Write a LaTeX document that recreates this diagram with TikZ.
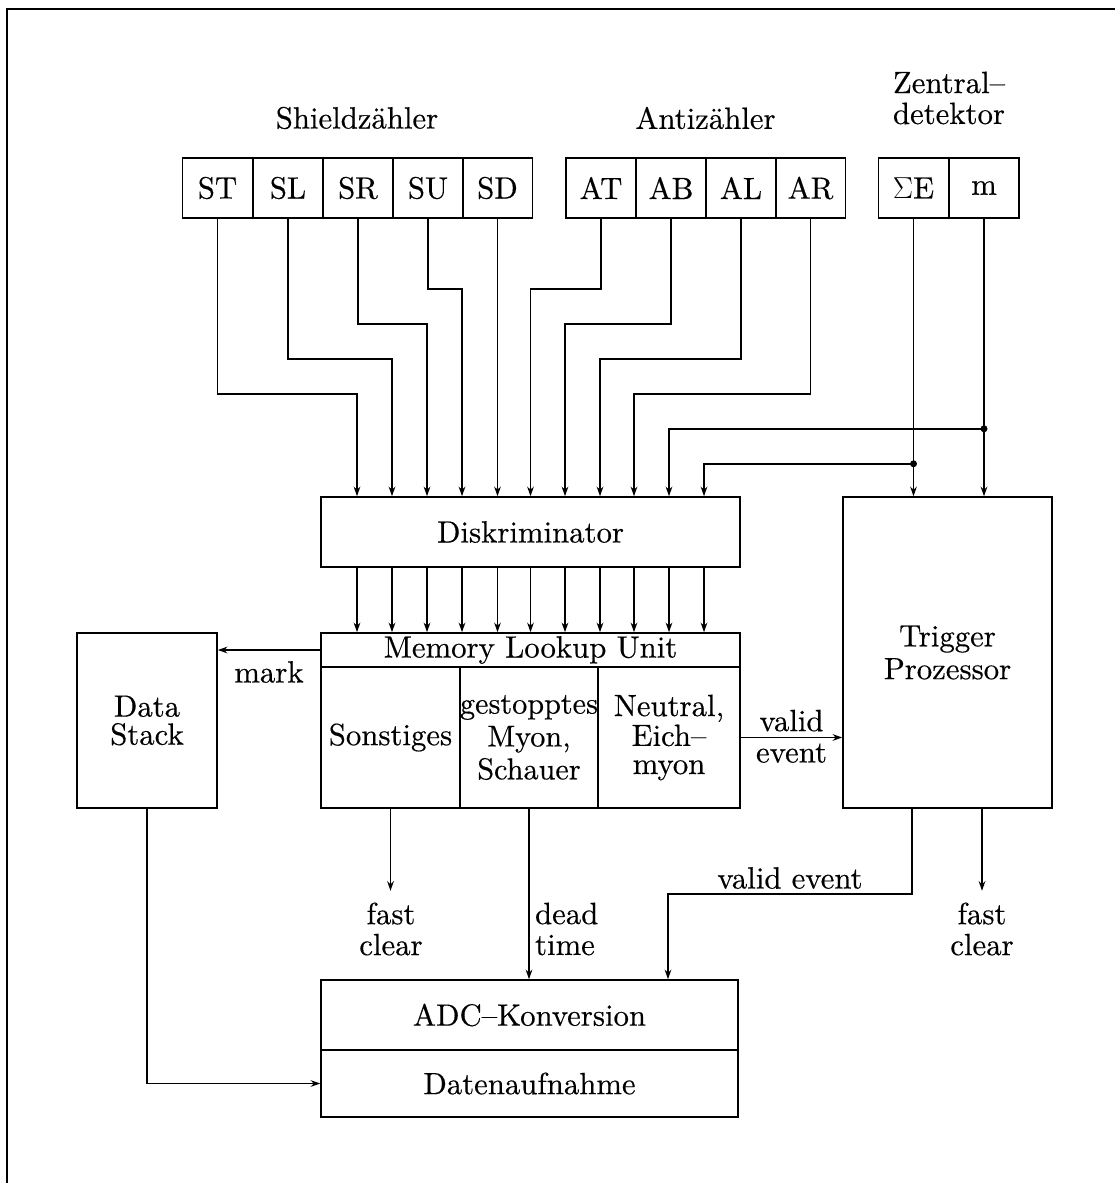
\documentclass[tikz,border=0pt]{standalone}
\usepackage[no-math]{fontspec}
\setmainfont{lmroman10-regular.otf}[FakeBold=0.4]
\usetikzlibrary{arrows.meta}
\begin{document}
\begin{tikzpicture}[x=0.02cm,y=-0.02cm,
  font=\fontsize{17.5}{19}\selectfont,
  box/.style={draw, line width=0.9pt, inner sep=0pt, align=center},
  cell/.style={box, minimum width=1.4cm, minimum height=1.2cm},
  ln/.style={line width=0.9pt},
  arr/.style={ln, -{Stealth[length=5.5pt,width=3.8pt]}},
  lbl/.style={align=center, inner sep=1pt}]
\useasboundingbox (0,0) rectangle (1115,1183);
% frame
\draw[line width=1.4pt] (7,1183) -- (7,9) -- (1115,9);
% headings
\node[lbl] (hS) at (357,118) {Shieldzähler};
\node[lbl] (hA) at (705.5,118) {Antizähler};
\node[lbl, font=\fontsize{17.5}{17.6}\selectfont] (hZ) at (949,98) {Zentral–\\detektor};
% counters
\node[cell] (ST) at (217.5,188) {ST};
\node[cell] (SL) at (288,188) {SL};
\node[cell] (SR) at (358,188) {SR};
\node[cell] (SU) at (428,188) {SU};
\node[cell] (SD) at (497.5,188) {SD};
\node[cell] (AT) at (601,188) {AT};
\node[cell] (AB) at (671,188) {AB};
\node[cell] (AL) at (741,188) {AL};
\node[cell] (AR) at (810.5,188) {AR};
\node[cell] (SE) at (913.5,188) {$\Sigma$E};
\node[cell] (m) at (984,188) {m};
% main blocks
\node[box, minimum width=8.38cm, minimum height=1.4cm] (Disk) at (530.5,532) {Diskriminator};
\node[box, minimum width=8.38cm, minimum height=0.68cm] (MLU) at (530.5,650) {Memory Lookup Unit};
\node[box, minimum width=2.78cm, minimum height=2.82cm] (Sonst) at (390.5,737.5) {Sonstiges};
\node[box, minimum width=2.76cm, minimum height=2.82cm] (Gest) at (529,737.5) {};
\node[lbl, inner sep=0pt, font=\fontsize{17.2}{18.7}\selectfont] (GestT) at (Gest.center) {gestopptes\\Myon,\\Schauer};
\node[box, minimum width=2.84cm, minimum height=2.82cm] (Neut) at (669,737.5) {Neutral,\\[-2pt]Eich–\\[-3pt]myon};
\node[box, minimum width=4.18cm, minimum height=6.22cm, font=\fontsize{17.5}{18.7}\selectfont] (Trig) at (947.5,652.5) {Trigger\\Prozessor};
\node[box, minimum width=2.8cm, minimum height=3.5cm, font=\fontsize{17.5}{16}\selectfont] (DS) at (147,720.5) {Data\\Stack};
\node[box, minimum width=8.34cm, minimum height=1.4cm] (ADC) at (529.5,1015) {ADC–Konversion};
\node[box, minimum width=8.34cm, minimum height=1.34cm] (Daten) at (529.5,1083.5) {Datenaufnahme};
% input columns of the discriminator
\coordinate (i1) at (357,0);
\coordinate (i2) at (392,0);
\coordinate (i3) at (427,0);
\coordinate (i4) at (462,0);
\coordinate (i5) at (497.5,0);
\coordinate (i6) at (530.5,0);
\coordinate (i7) at (565,0);
\coordinate (i8) at (600,0);
\coordinate (i9) at (634,0);
\coordinate (i10) at (669,0);
\coordinate (i11) at (704,0);
% counters to discriminator
\draw[arr] (ST.south) -- ++(0,175) -| (i1 |- Disk.north);
\draw[arr] (SL.south) -- ++(0,140) -| (i2 |- Disk.north);
\draw[arr] (SR.south) -- ++(0,105) -| (i3 |- Disk.north);
\draw[arr] (SU.south) -- ++(0,70) -| (i4 |- Disk.north);
\draw[arr] (SD.south) -- (SD.south |- Disk.north);
\draw[arr] (AT.south) -- ++(0,70) -| (i6 |- Disk.north);
\draw[arr] (AB.south) -- ++(0,105) -| (i7 |- Disk.north);
\draw[arr] (AL.south) -- ++(0,140) -| (i8 |- Disk.north);
\draw[arr] (AR.south) -- ++(0,175) -| (i9 |- Disk.north);
% central detector
\path (m.south) ++(0,210) coordinate (jm);
\path (SE.south) ++(0,245) coordinate (jE);
\draw[arr] (m.south) -- (m.south |- Trig.north);
\draw[arr] (SE.south) -- (SE.south |- Trig.north);
\draw[arr] (jm) -| (i10 |- Disk.north);
\draw[arr] (jE) -| (i11 |- Disk.north);
\fill (jm) circle[radius=0.07cm];
\fill (jE) circle[radius=0.07cm];
% discriminator to memory lookup unit
\foreach \k in {1,...,11} \draw[arr] (i\k |- Disk.south) -- (i\k |- MLU.north);
% mark
\draw[arr] (MLU.west) -- (MLU.west -| DS.east);
\node[lbl] (mk) at (269,672) {mark};
% valid event to trigger
\draw[arr] (Neut.east) -- (Neut.east -| Trig.west)
  node[midway, above, inner sep=3pt] (lv) {valid}
  node[midway, below, inner sep=3pt] (le) {event};
% outputs
\draw[arr] (Sonst.south) -- ++(0,82) coordinate (e1);
\node[lbl, font=\fontsize{17.5}{17.6}\selectfont] (fc1) at (391,929) {fast\\clear};
\draw[arr] (Gest.south) -- (Gest.south |- ADC.north);
\node[lbl, anchor=west, align=left, font=\fontsize{17.5}{17.6}\selectfont] (dt) at (533,929) {dead\\time};
\coordinate (t1) at (912,0);
\coordinate (t2) at (982,0);
\coordinate (a1) at (668,0);
\draw[arr] (t1 |- Trig.south) -- ++(0,85) -| (a1 |- ADC.north);
\node[lbl] (ve) at (790,878) {valid event};
\draw[arr] (t2 |- Trig.south) -- ++(0,82) coordinate (e2);
\node[lbl, font=\fontsize{17.5}{17.6}\selectfont] (fc2) at (982,929) {fast\\clear};
\draw[arr] (DS.south) |- (Daten.west);
\end{tikzpicture}
\end{document}
